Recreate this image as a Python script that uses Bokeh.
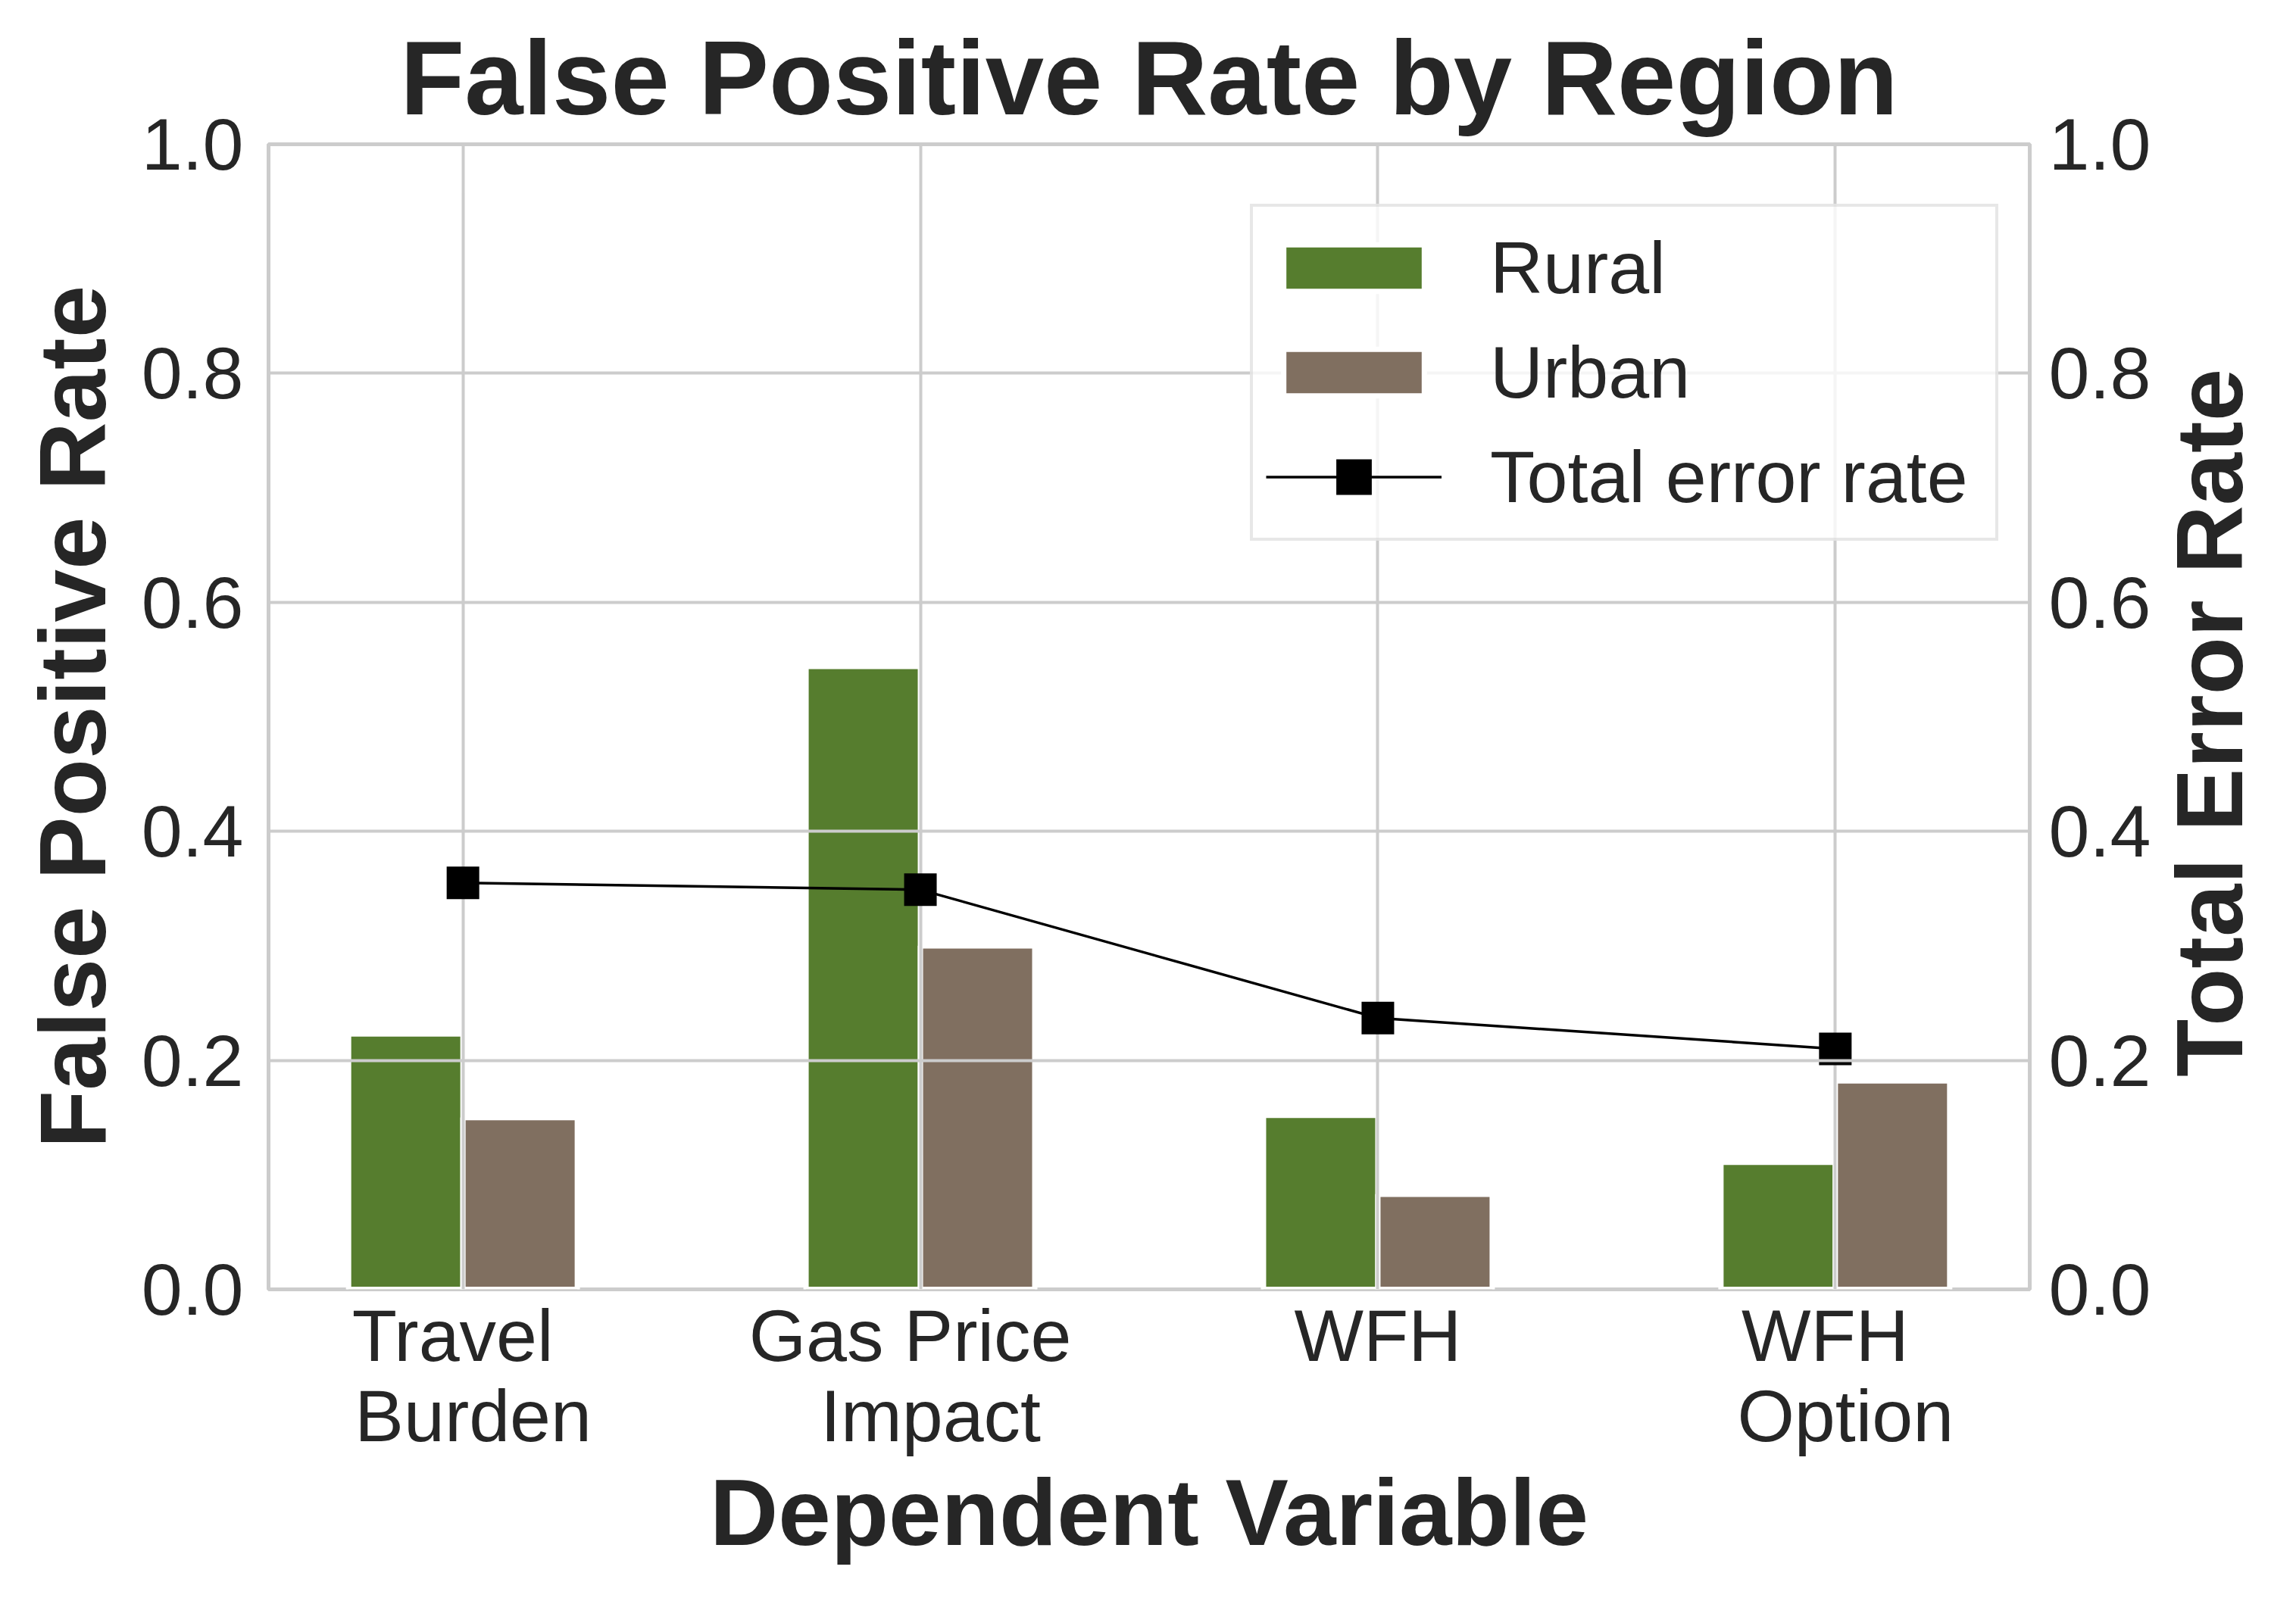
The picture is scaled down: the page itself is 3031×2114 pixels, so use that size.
import math
from bokeh.plotting import figure
from bokeh.layouts import row
from bokeh.models import Range1d, LinearAxis, FixedTicker, Legend, LegendItem
from bokeh.embed import file_html
from bokeh.resources import INLINE

# ---- data ----
categories = ["Travel\u00a0\n\u00a0Burden", "Gas Price\u00a0\n\u00a0Impact", "WFH", "WFH\u00a0\n\u00a0Option"]
rural = [0.223, 0.544, 0.152, 0.111]
urban = [0.150, 0.300, 0.083, 0.182]
total_error = [0.355, 0.349, 0.237, 0.210]
y_ticks = [0.0, 0.2, 0.4, 0.6, 0.8, 1.0]

FONT = "Liberation Sans"
TXT = "#262626"
GRID = "#cccccc"
GREEN = "#567D2E"
BROWN = "#806F60"

FRAME_W, FRAME_H = 2325, 1512
BORDER_L, BORDER_R, BORDER_T, BORDER_B = 354, 165, 190, 396
TOTAL_W, TOTAL_H = 3015, 2098
MAIN_W = BORDER_L + FRAME_W + BORDER_R
SIDE_W = TOTAL_W - MAIN_W

xpos = list(range(len(categories)))
bar_w = 0.25
x_rural = [x - bar_w / 2 for x in xpos]
x_urban = [x + bar_w / 2 for x in xpos]

p = figure(
    frame_width=FRAME_W, frame_height=FRAME_H,
    x_range=Range1d(-0.425, 3.425), y_range=Range1d(0, 1),
    output_backend="svg", toolbar_location=None,
    min_border_left=BORDER_L, min_border_right=BORDER_R,
    min_border_top=BORDER_T, min_border_bottom=BORDER_B,
    background_fill_color="white", border_fill_color="white",
)
p.extra_y_ranges = {"right": Range1d(0, 1)}

# title
p.title.text = "False Positive Rate by Region"
p.title.text_font = FONT
p.title.text_font_size = "139px"
p.title.text_font_style = "bold"
p.title.text_color = TXT
p.title.align = "center"
p.title.standoff = 22

# outline
p.outline_line_color = GRID
p.outline_line_width = 5

# grids
p.xgrid.ticker = FixedTicker(ticks=xpos)
p.xgrid.grid_line_color = GRID
p.xgrid.grid_line_width = 4
p.ygrid.ticker = FixedTicker(ticks=y_ticks)
p.ygrid.grid_line_color = GRID
p.ygrid.grid_line_width = 4
p.ygrid.level = "glyph"

# bars (below horizontal grid)
r_rural = p.vbar(x=x_rural, top=rural, width=bar_w, fill_color=GREEN,
                 line_color="white", line_width=7, level="underlay")
r_urban = p.vbar(x=x_urban, top=urban, width=bar_w, fill_color=BROWN,
                 line_color="white", line_width=7, level="underlay")

# total error line
r_line = p.line(x=xpos, y=total_error, line_color="black", line_width=3.5,
                y_range_name="right")
r_pts = p.scatter(x=xpos, y=total_error, marker="square", size=27,
                  fill_color="black", line_color="black", line_width=16,
                  line_join="miter", y_range_name="right")

def style_axis(ax, label, tick_standoff, label_standoff):
    ax.axis_label = label
    ax.axis_label_text_font = FONT
    ax.axis_label_text_font_size = "125px"
    ax.axis_label_text_font_style = "bold"
    ax.axis_label_text_color = TXT
    ax.major_label_text_font = FONT
    ax.major_label_text_font_size = "97px"
    ax.major_label_text_color = TXT
    ax.axis_line_color = None
    ax.major_tick_line_color = None
    ax.minor_tick_line_color = None
    ax.major_tick_out = 0
    ax.major_tick_in = 0
    ax.major_label_standoff = tick_standoff
    ax.axis_label_standoff = label_standoff

# x axis
xa = p.xaxis[0]
xa.ticker = FixedTicker(ticks=xpos)
xa.major_label_overrides = {x: c for x, c in zip(xpos, categories)}
style_axis(xa, "Dependent Variable", 6, 0)
xa.major_label_text_line_height = 0.98

# left y axis
ya = p.yaxis[0]
ya.ticker = FixedTicker(ticks=y_ticks)
ya.major_label_overrides = {t: f"{t:.1f}" for t in y_ticks}
style_axis(ya, "False Positive Rate", 33, 19)

# right y axis (its title is drawn in the side panel so it reads bottom-to-top)
ra = LinearAxis(y_range_name="right")
ra.ticker = FixedTicker(ticks=y_ticks)
ra.major_label_overrides = {t: f"{t:.1f}" for t in y_ticks}
style_axis(ra, None, 25, 5)
p.add_layout(ra, "right")

# legend
legend = Legend(
    items=[
        LegendItem(label="Rural", renderers=[r_rural]),
        LegendItem(label="Urban", renderers=[r_urban]),
        LegendItem(label="Total error rate", renderers=[r_line, r_pts]),
    ],
    location=(1296, 988),
    orientation="vertical",
    label_text_font=FONT,
    label_text_font_size="97px",
    label_text_color=TXT,
    glyph_width=232,
    glyph_height=77,
    label_standoff=64,
    label_width=650,
    label_height=127,
    spacing=11,
    padding=17,
    margin=0,
    background_fill_color="white",
    background_fill_alpha=0.8,
    border_line_color="#d0d0d0",
    border_line_width=4,
)
p.add_layout(legend)

# side panel holding the right axis title
side = figure(
    width=SIDE_W, height=TOTAL_H,
    x_range=Range1d(0, SIDE_W), y_range=Range1d(0, TOTAL_H),
    output_backend="svg", toolbar_location=None,
    min_border=0, outline_line_color=None,
    background_fill_color="white", border_fill_color="white",
)
side.axis.visible = False
side.grid.visible = False
side.text(
    x=[2916 - MAIN_W], y=[TOTAL_H - (BORDER_T + FRAME_H / 2) - 114],
    text=["Total Error Rate"], angle=math.pi / 2,
    text_align="center", text_baseline="middle",
    text_font={"value": FONT}, text_font_size={"value": "125px"},
    text_font_style="bold", text_color=TXT,
)

layout = row(p, side, spacing=0)
open("out.html", "w").write(file_html(layout, INLINE))
